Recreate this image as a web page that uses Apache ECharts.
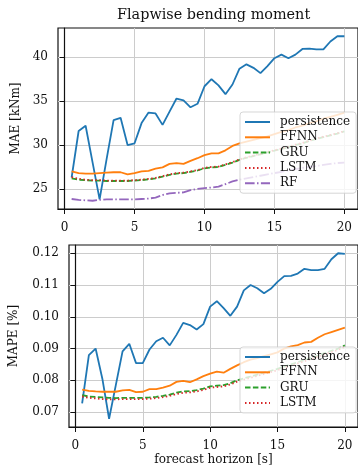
<!DOCTYPE html>
<html>
<head>
<meta charset="utf-8">
<script src="https://cdn.jsdelivr.net/npm/echarts@6/dist/echarts.min.js"></script>
<style>
  html, body { margin: 0; padding: 0; background: #fff; }
  #chart { width: 358px; height: 468px; }
</style>
</head>
<body>
<div id="chart"></div>
<script>
// forecast horizon [s]
const horizon = [0.5, 1, 1.5, 2, 2.5, 3, 3.5, 4, 4.5, 5, 5.5, 6, 6.5, 7, 7.5, 8, 8.5, 9, 9.5, 10,
  10.5, 11, 11.5, 12, 12.5, 13, 13.5, 14, 14.5, 15, 15.5, 16, 16.5, 17, 17.5, 18, 18.5, 19, 19.5, 20];
const xTicks = [0, 5, 10, 15, 20];

// MAE [kNm]
const maePersistence = [26.3, 31.6, 32.2, 28.0, 23.8, 28.4, 32.85, 33.1, 30.0, 30.2,
  32.5, 33.7, 33.6, 32.3, 33.8, 35.3, 35.1, 34.3, 34.7, 36.7,
  37.5, 36.8, 35.8, 36.9, 38.7, 39.2, 38.8, 38.2, 39.0, 39.9,
  40.3, 39.9, 40.3, 40.95, 41.0, 40.9, 40.9, 41.8, 42.4, 42.4];
const maeFFNN = [27.0, 26.8, 26.75, 26.75, 26.8, 26.85, 26.9, 26.9, 26.65, 26.8,
  27.0, 27.05, 27.3, 27.45, 27.85, 27.95, 27.85, 28.2, 28.5, 28.85,
  29.05, 29.05, 29.4, 29.9, 30.2, 30.4, 30.6, 30.8, 31.0, 31.25,
  31.5, 31.7, 32.0, 32.2, 32.5, 32.7, 33.0, 33.2, 33.45, 33.7];
const maeGRU = [26.2, 26.05, 26.0, 25.95, 25.95, 25.9, 25.9, 25.9, 25.9, 25.95,
  26.0, 26.1, 26.2, 26.4, 26.6, 26.75, 26.8, 26.95, 27.1, 27.35,
  27.45, 27.5, 27.75, 28.0, 28.3, 28.55, 28.75, 28.95, 29.15, 29.35,
  29.55, 29.75, 30.0, 30.2, 30.45, 30.7, 30.9, 31.1, 31.3, 31.55];
const maeLSTM = [26.35, 26.15, 26.05, 26.0, 26.0, 25.95, 25.95, 25.95, 25.95, 26.0,
  26.05, 26.15, 26.25, 26.45, 26.65, 26.8, 26.85, 27.0, 27.15, 27.4,
  27.5, 27.55, 27.8, 28.05, 28.35, 28.6, 28.8, 29.0, 29.2, 29.4,
  29.6, 29.8, 30.05, 30.25, 30.5, 30.75, 30.95, 31.15, 31.35, 31.6];
const maeRF = [23.85, 23.75, 23.7, 23.65, 23.75, 23.8, 23.8, 23.8, 23.8, 23.8,
  23.85, 23.9, 24.0, 24.3, 24.5, 24.55, 24.6, 24.85, 25.0, 25.1,
  25.15, 25.25, 25.55, 25.85, 26.05, 26.2, 26.35, 26.5, 26.65, 26.8,
  26.95, 27.1, 27.25, 27.4, 27.5, 27.6, 27.75, 27.85, 27.95, 28.0];
const maeTicks = [25, 30, 35, 40];

// MAPE [%]
const mapePersistence = [0.0727, 0.0879, 0.0900, 0.0805, 0.0679, 0.0785, 0.0891, 0.0915, 0.0854, 0.0854,
  0.0897, 0.0923, 0.0934, 0.0910, 0.0943, 0.0981, 0.0974, 0.0960, 0.0977, 0.1032,
  0.1049, 0.1027, 0.1003, 0.1032, 0.1083, 0.1100, 0.1090, 0.1074, 0.1088, 0.1110,
  0.1128, 0.1129, 0.1136, 0.1151, 0.1147, 0.1147, 0.1151, 0.1181, 0.1200, 0.1198];
const mapeFFNN = [0.0771, 0.0767, 0.0765, 0.0764, 0.0764, 0.0764, 0.0768, 0.0770, 0.0763, 0.0764,
  0.0772, 0.0772, 0.0777, 0.0783, 0.0795, 0.0798, 0.0794, 0.0803, 0.0813, 0.0821,
  0.0827, 0.0824, 0.0836, 0.0847, 0.0857, 0.0865, 0.0870, 0.0876, 0.0882, 0.0888,
  0.0900, 0.0907, 0.0911, 0.0919, 0.0921, 0.0934, 0.0945, 0.0952, 0.0959, 0.0966];
const mapeGRU = [0.0753, 0.0749, 0.0748, 0.0746, 0.0745, 0.0744, 0.0745, 0.0745, 0.0745, 0.0745,
  0.0746, 0.0748, 0.0751, 0.0755, 0.0761, 0.0765, 0.0766, 0.0769, 0.0774, 0.0781,
  0.0783, 0.0785, 0.0791, 0.0800, 0.0806, 0.0812, 0.0818, 0.0824, 0.0830, 0.0836,
  0.0843, 0.0850, 0.0857, 0.0864, 0.0871, 0.0878, 0.0886, 0.0893, 0.0900, 0.0910];
const mapeLSTM = [0.0749, 0.0745, 0.0743, 0.0741, 0.0740, 0.0740, 0.0741, 0.0741, 0.0741, 0.0741,
  0.0742, 0.0744, 0.0747, 0.0751, 0.0757, 0.0761, 0.0762, 0.0765, 0.0770, 0.0777,
  0.0779, 0.0781, 0.0787, 0.0796, 0.0802, 0.0808, 0.0814, 0.0820, 0.0826, 0.0832,
  0.0839, 0.0846, 0.0853, 0.0860, 0.0867, 0.0874, 0.0882, 0.0889, 0.0896, 0.0905];
const mapeTicks = [0.07, 0.08, 0.09, 0.10, 0.11, 0.12];

const FONT = 'DejaVu Serif';
const styles = {
  persistence: { color: '#1f77b4', type: 'solid' },
  FFNN: { color: '#ff7f0e', type: 'solid' },
  GRU: { color: '#2ca02c', type: [5.5, 2.4] },
  LSTM: { color: '#d62728', type: [1.5, 2.5] },
  RF: { color: '#9467bd', type: [9.6, 2.4, 1.5, 2.4] },
};

function makeSeries(name, values, idx) {
  const s = styles[name];
  return {
    name,
    type: 'line',
    xAxisIndex: idx,
    yAxisIndex: idx,
    data: horizon.map((h, i) => [h, values[i]]),
    showSymbol: false,
    symbol: 'none',
    color: s.color,
    lineStyle: { color: s.color, width: 1.8, type: s.type },
    z: name === 'persistence' ? 2 : 3,
  };
}

function xAxis(idx, withName) {
  return {
    type: 'value',
    gridIndex: idx,
    min: -0.475,
    max: 20.975,
    name: withName ? 'forecast horizon [s]' : '',
    nameLocation: 'middle',
    nameGap: 27,
    nameTextStyle: { fontFamily: FONT, fontSize: 12, color: '#111' },
    axisLine: { show: true, onZero: false, lineStyle: { color: '#111', width: 1.2 } },
    axisTick: { show: true, length: 5, customValues: xTicks, lineStyle: { color: '#111', width: 1 } },
    axisLabel: { customValues: xTicks, margin: 13, fontFamily: FONT, fontSize: 12, color: '#111' },
    splitLine: { show: true, lineStyle: { color: '#cccccc', width: 1 } },
  };
}

function yAxis(idx, name, ticks, gap, fmt) {
  return {
    type: 'value',
    gridIndex: idx,
    min: idx === 0 ? 22.71 : 0.0653,
    max: idx === 0 ? 43.34 : 0.1226,
    name,
    nameLocation: 'middle',
    nameRotate: 90,
    nameGap: gap,
    nameTextStyle: { fontFamily: FONT, fontSize: 12, color: '#111' },
    axisLine: { show: true, lineStyle: { color: '#111', width: 1.2 } },
    axisTick: { show: true, length: 5, customValues: ticks, lineStyle: { color: '#111', width: 1 } },
    axisLabel: { customValues: ticks, margin: 10, fontFamily: FONT, fontSize: 12, color: '#111', formatter: fmt },
    splitLine: { show: true, lineStyle: { color: '#cccccc', width: 1 } },
  };
}

function legend(top, names) {
  return {
    orient: 'vertical',
    left: 240,
    top,
    data: names,
    itemWidth: 25,
    itemHeight: 14,
    itemGap: 3.3,
    padding: [4, 6, 4, 4],
    backgroundColor: 'rgba(255,255,255,0.8)',
    borderColor: 'rgba(204,204,204,0.8)',
    borderWidth: 1,
    borderRadius: 3,
    selectedMode: false,
    itemStyle: { color: 'transparent', borderColor: 'transparent', borderWidth: 0, opacity: 0 },
    textStyle: { fontFamily: FONT, fontSize: 12, color: '#111', padding: [0, 0, 0, 5] },
  };
}

const chart = echarts.init(document.getElementById('chart'), null, { renderer: 'canvas' });
chart.setOption({
  animation: false,
  backgroundColor: '#fff',
  title: {
    text: 'Flapwise bending moment',
    left: 112,
    top: 3,
    textStyle: { fontFamily: FONT, fontSize: 14.4, fontWeight: 'normal', color: '#111' },
  },
  grid: [
    { left: 58, top: 28, width: 302, height: 181, show: true, borderColor: '#111', borderWidth: 1.2, backgroundColor: 'transparent' },
    { left: 58, top: 245, width: 302, height: 182, show: true, borderColor: '#111', borderWidth: 1.2, backgroundColor: 'transparent' },
  ],
  xAxis: [xAxis(0, false), xAxis(1, true)],
  yAxis: [
    yAxis(0, 'MAE [kNm]', maeTicks, 34, (v) => String(v)),
    yAxis(1, 'MAPE [%]', mapeTicks, 49, (v) => v.toFixed(2)),
  ],
  legend: [
    legend(112, ['persistence', 'FFNN', 'GRU', 'LSTM', 'RF']),
    legend(347, ['persistence', 'FFNN', 'GRU', 'LSTM']),
  ],
  series: [
    makeSeries('persistence', maePersistence, 0),
    makeSeries('FFNN', maeFFNN, 0),
    makeSeries('GRU', maeGRU, 0),
    makeSeries('LSTM', maeLSTM, 0),
    makeSeries('RF', maeRF, 0),
    makeSeries('persistence', mapePersistence, 1),
    makeSeries('FFNN', mapeFFNN, 1),
    makeSeries('GRU', mapeGRU, 1),
    makeSeries('LSTM', mapeLSTM, 1),
  ],
});
</script>
</body>
</html>
